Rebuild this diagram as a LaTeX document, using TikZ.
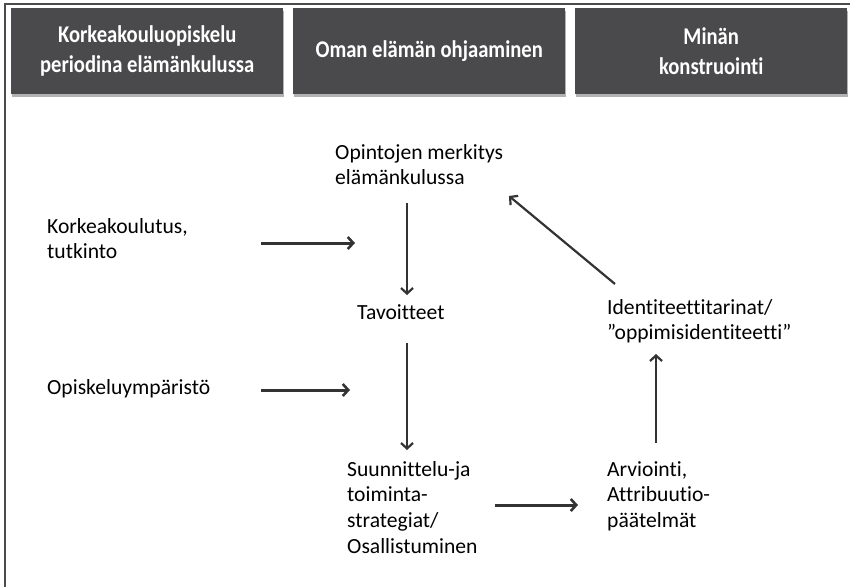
\documentclass[tikz,border=0pt]{standalone}
\usepackage{fontspec}
\setmainfont{Carlito}[Ligatures=NoCommon]
\newfontfamily\hdrfont{Carlito}[Ligatures=NoCommon, FakeStretch=0.86]
\usetikzlibrary{arrows.meta,shadows}
\definecolor{hdr}{HTML}{4A4A4C}
\definecolor{ink}{HTML}{333333}
\begin{document}
\begin{tikzpicture}[x=1pt,y=-1pt,
  hdrbox/.style={fill=hdr, draw=none, minimum width=272pt, minimum height=86pt, anchor=north west,
     drop shadow={shadow xshift=0.5pt, shadow yshift=-2.5pt, opacity=0.3, fill=black},
     text=white, align=center, font=\hdrfont\fontsize{24}{30}\selectfont\bfseries, inner sep=0pt},
  lbl/.style={anchor=north west, align=left, inner sep=0pt, text=black,
     font=\fontsize{21.6}{25.6}\selectfont},
  arr/.style={draw=ink, line width=3pt, -{Straight Barb[length=5.5pt,width=12pt,line width=2.6pt]}},
  varr/.style={draw=ink, line width=2.2pt, -{Straight Barb[length=5.5pt,width=12pt,line width=2.2pt]}}
]
\useasboundingbox (0,0) rectangle (850,587);
% frame (top and left edges visible)
\draw[line width=1.6pt, draw=black!70] (850,4) -- (5,4) -- (5,587);
% header boxes
\node[hdrbox] (h1) at (11,8) {Korkeakouluopiskelu\\periodina elämänkulussa};
\node[hdrbox] (h2) at (293,8) {Oman elämän ohjaaminen};
\node[hdrbox] (h3) at (575,8) {Minän\\konstruointi};
% labels
\node[lbl] (kork) at (47,218) {Korkeakoulutus,\\tutkinto};
\node[lbl] (opin) at (335,144) {Opintojen merkitys\\elämänkulussa};
\node[lbl] (tav) at (357,304) {Tavoitteet};
\node[lbl] (opis) at (47,379) {Opiskeluympäristö};
\node[lbl] (suun) at (347,461) {Suunnittelu-ja\\toiminta-\\strategiat/\\Osallistuminen};
\node[lbl] (arv) at (607,461) {Arviointi,\\Attribuutio-\\päätelmät};
\node[lbl] (ident) at (607,299) {Identiteettitarinat/\\”oppimisidentiteetti”};
% arrow end points
\coordinate (a1s) at (261,243); \coordinate (a1e) at (355,243);
\coordinate (a2s) at (261,390); \coordinate (a2e) at (350,390);
\coordinate (d1s) at (407,203); \coordinate (d1e) at (407,295);
\coordinate (d2s) at (407,343); \coordinate (d2e) at (407,450);
\coordinate (a3s) at (495,505); \coordinate (a3e) at (578,505);
\coordinate (ups) at (656,443); \coordinate (upe) at (656,354);
\coordinate (dgs) at (615,284); \coordinate (dge) at (509,196);
\draw[arr] (a1s) -- (a1e);
\draw[arr] (a2s) -- (a2e);
\draw[varr] (d1s) -- (d1e);
\draw[varr] (d2s) -- (d2e);
\draw[arr] (a3s) -- (a3e);
\draw[varr] (ups) -- (upe);
\draw[varr] (dgs) -- (dge);
\end{tikzpicture}
\end{document}
